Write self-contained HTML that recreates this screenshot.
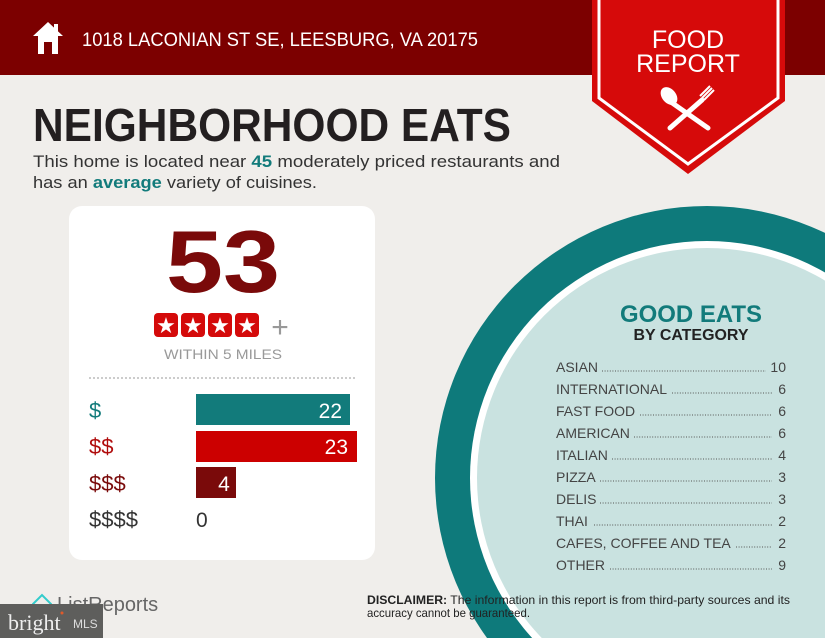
<!DOCTYPE html>
<html><head><meta charset="utf-8"><style>
html,body{margin:0;padding:0;background:#f0eeeb;width:825px;height:638px;overflow:hidden;}
svg{display:block;font-family:"Liberation Sans",sans-serif;}
</style></head><body>
<svg width="825" height="638" viewBox="0 0 825 638" xmlns="http://www.w3.org/2000/svg" overflow="hidden">
<defs><clipPath id="fr"><rect width="825" height="638"/></clipPath></defs>
<rect width="825" height="638" fill="#f0eeeb"/>
<g clip-path="url(#fr)">
<circle cx="707" cy="478" r="272" fill="#0e7a7b"/>
<circle cx="707" cy="478" r="237" fill="#ffffff"/>
<circle cx="707" cy="478" r="230" fill="#c9e2e0"/>
</g>
<rect x="0" y="0" width="825" height="75" fill="#7c0000"/>
<path d="M33 36 L48 22 L63 36 L58 36 L58 54 L38 54 L38 36 Z" fill="#fff"/>
<rect x="44" y="42" width="8" height="12" fill="#7c0000"/>
<rect x="54" y="24" width="4" height="8" fill="#fff"/>
<text x="82" y="46" font-size="19" fill="#fff" textLength="396" lengthAdjust="spacingAndGlyphs">1018 LACONIAN ST SE, LEESBURG, VA 20175</text>
<path d="M592 0 L785 0 L785 101 L688 174 L592 101 Z" fill="#d60a0a"/>
<path d="M599 0 L599 98 L688 164 L778 98 L778 0" fill="none" stroke="#fff" stroke-width="3"/>
<text x="688" y="48" font-size="25" fill="#fff" text-anchor="middle">FOOD</text>
<text x="688" y="72" font-size="25" fill="#fff" text-anchor="middle">REPORT</text>
<g stroke="#fff" stroke-width="5" stroke-linecap="round">
<line x1="668" y1="100" x2="708" y2="128"/>
<line x1="670" y1="128" x2="702" y2="100"/>
</g>
<ellipse cx="669" cy="96" rx="7" ry="10" fill="#fff" transform="rotate(-40 669 96)"/>
<path d="M700 96 L710 86 M702 98 L712 88 M704 100 L714 90" stroke="#fff" stroke-width="2"/>
<text x="33" y="141" font-size="46" font-weight="bold" fill="#231f20" textLength="478" lengthAdjust="spacingAndGlyphs">NEIGHBORHOOD EATS</text>
<text x="33" y="167" font-size="17" fill="#333" textLength="527" lengthAdjust="spacingAndGlyphs">This home is located near <tspan fill="#127b7b" font-weight="bold">45</tspan> moderately priced restaurants and</text>
<text x="33" y="188" font-size="17" fill="#333" textLength="284" lengthAdjust="spacingAndGlyphs">has an <tspan fill="#127b7b" font-weight="bold">average</tspan> variety of cuisines.</text>
<rect x="69" y="206" width="306" height="354" rx="13" fill="#fff"/>
<text x="223" y="292" font-size="88" font-weight="bold" fill="#7a0a0a" text-anchor="middle" textLength="114" lengthAdjust="spacingAndGlyphs">53</text>
<g fill="#d40a0a">
<rect x="154" y="313" width="24" height="24" rx="4"/>
<rect x="181" y="313" width="24" height="24" rx="4"/>
<rect x="208" y="313" width="24" height="24" rx="4"/>
<rect x="235" y="313" width="24" height="24" rx="4"/>
</g>
<g fill="#fff" font-size="22" text-anchor="middle">
<text x="166" y="333">★</text><text x="193" y="333">★</text><text x="220" y="333">★</text><text x="247" y="333">★</text>
</g>
<text x="280" y="337" font-size="30" fill="#999" text-anchor="middle">+</text>
<text x="223" y="359" font-size="14" fill="#999" text-anchor="middle" textLength="118" lengthAdjust="spacingAndGlyphs">WITHIN 5 MILES</text>
<line x1="89" y1="378" x2="356" y2="378" stroke="#999" stroke-width="1" stroke-dasharray="2,2"/>
<rect x="196" y="394" width="154" height="31" fill="#127b7b"/>
<rect x="196" y="431" width="161" height="31" fill="#cc0000"/>
<rect x="196" y="467" width="40" height="31" fill="#7a0a0a"/>
<g font-size="21" fill="#fff">
<text x="342" y="418" text-anchor="end">22</text>
<text x="348" y="454" text-anchor="end">23</text>
<text x="224" y="491" text-anchor="middle">4</text>
</g>
<text x="196" y="527" font-size="21" fill="#333">0</text>
<g font-size="22">
<text x="89" y="418" fill="#127b7b">$</text>
<text x="89" y="454" fill="#b00c0c">$$</text>
<text x="89" y="491" fill="#7a0a0a">$$$</text>
<text x="89" y="527" fill="#333">$$$$</text>
</g>
<text x="691" y="322" font-size="24" font-weight="bold" fill="#127b7b" text-anchor="middle" textLength="142" lengthAdjust="spacingAndGlyphs">GOOD EATS</text>
<text x="691" y="340" font-size="16" font-weight="bold" fill="#222" text-anchor="middle" textLength="115" lengthAdjust="spacingAndGlyphs">BY CATEGORY</text>
<g font-size="14" fill="#444">
<text x="556" y="372">ASIAN</text><text x="786" y="372" text-anchor="end">10</text>
<text x="556" y="394">INTERNATIONAL</text><text x="786" y="394" text-anchor="end">6</text>
<text x="556" y="416">FAST FOOD</text><text x="786" y="416" text-anchor="end">6</text>
<text x="556" y="438">AMERICAN</text><text x="786" y="438" text-anchor="end">6</text>
<text x="556" y="460">ITALIAN</text><text x="786" y="460" text-anchor="end">4</text>
<text x="556" y="482">PIZZA</text><text x="786" y="482" text-anchor="end">3</text>
<text x="556" y="504">DELIS</text><text x="786" y="504" text-anchor="end">3</text>
<text x="556" y="526">THAI</text><text x="786" y="526" text-anchor="end">2</text>
<text x="556" y="548">CAFES, COFFEE AND TEA</text><text x="786" y="548" text-anchor="end">2</text>
<text x="556" y="570">OTHER</text><text x="786" y="570" text-anchor="end">9</text>
</g>
<g stroke="#555" stroke-width="1" stroke-dasharray="1,1.6">
<line x1="602" y1="371" x2="766" y2="371"/>
<line x1="672" y1="393" x2="772" y2="393"/>
<line x1="640" y1="415" x2="772" y2="415"/>
<line x1="634" y1="437" x2="772" y2="437"/>
<line x1="612" y1="459" x2="772" y2="459"/>
<line x1="600" y1="481" x2="772" y2="481"/>
<line x1="600" y1="503" x2="772" y2="503"/>
<line x1="594" y1="525" x2="772" y2="525"/>
<line x1="736" y1="547" x2="772" y2="547"/>
<line x1="610" y1="569" x2="772" y2="569"/>
</g>
<text x="367" y="604" font-size="12" fill="#222" textLength="423" lengthAdjust="spacingAndGlyphs"><tspan font-weight="bold">DISCLAIMER:</tspan> The information in this report is from third-party sources and its</text>
<text x="367" y="617" font-size="12" fill="#222" textLength="163" lengthAdjust="spacingAndGlyphs">accuracy cannot be guaranteed.</text>
<path d="M33 604 L42 595 L51 604 L51 612 L33 612 Z" fill="none" stroke="#3cc" stroke-width="2"/>
<text x="57" y="611" font-size="20" fill="#666">ListReports</text>
<rect x="0" y="604" width="103" height="34" fill="#5e5e5c"/>
<text x="8" y="630" font-size="22" fill="#eee" font-family="Liberation Serif,serif">bright</text>
<text x="73" y="628" font-size="12" fill="#ddd">MLS</text>
<circle cx="62" cy="613" r="1.5" fill="#e05a2a"/>
</svg>
</body></html>
